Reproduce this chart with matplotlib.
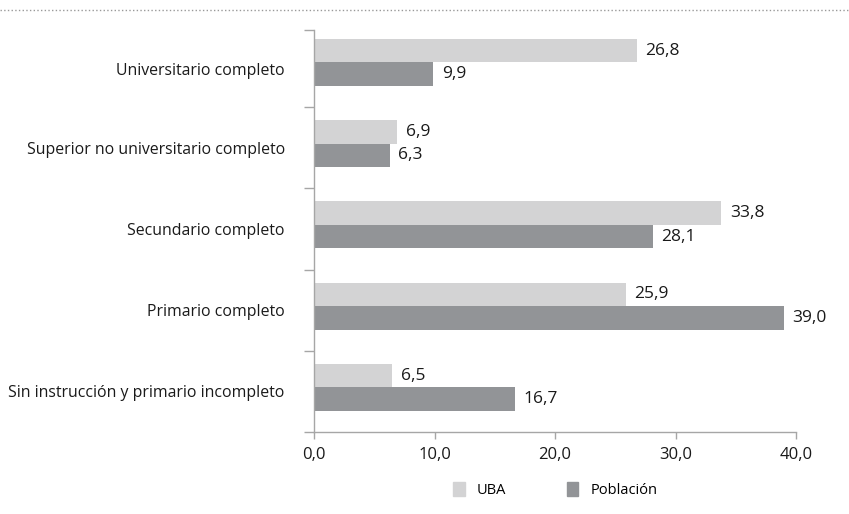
import numpy as np
import matplotlib.pyplot as plt
from matplotlib.lines import Line2D

categories = ['Universitario completo', 'Superior no universitario completo',
              'Secundario completo', 'Primario completo',
              'Sin instrucción y primario incompleto']
uba = [26.8, 6.9, 33.8, 25.9, 6.5]
poblacion = [9.9, 6.3, 28.1, 39.0, 16.7]
xticks = [0, 10, 20, 30, 40]

c_uba = '#d3d3d4'
c_pob = '#929497'
axis_col = '#a6a6a6'

plt.rcParams['font.family'] = ['Open Sans', 'DejaVu Sans']

fig = plt.figure(figsize=(8.49, 5.14), dpi=100)
ax = fig.add_axes([314 / 849, 1 - 432 / 514, (796 - 314) / 849, (432 - 30) / 514])

n = len(categories)
y = np.arange(n)[::-1]  # first category on top
h = 0.289
ax.barh(y + h / 2, uba, height=h, color=c_uba)
ax.barh(y - h / 2, poblacion, height=h, color=c_pob)

def fmt(v):
    return f'{v:.1f}'.replace('.', ',')

for yi, v in zip(y, uba):
    ax.text(v + 0.7, yi + h / 2, fmt(v), va='center', ha='left', fontsize=12.5, color='#1a1a1a')
for yi, v in zip(y, poblacion):
    ax.text(v + 0.7, yi - h / 2, fmt(v), va='center', ha='left', fontsize=12.5, color='#1a1a1a')

# group separators sit a bit below each bar pair
bounds = np.array([-0.55, 0.45, 1.45, 2.45, 3.45, 4.4])
ax.set_xlim(0, 40)
ax.set_ylim(bounds[0], bounds[-1])
ax.set_xticks(xticks)
ax.set_xticklabels([fmt(t) for t in xticks], fontsize=12, color='#1a1a1a')
label_pos = (bounds[:-1] + bounds[1:]) / 2
ax.set_yticks(label_pos)
ax.set_yticklabels(categories[::-1], fontsize=11.4, color='#1a1a1a')
ax.set_yticks(bounds, minor=True)
ax.tick_params(axis='y', which='major', length=0, pad=21)
ax.tick_params(axis='y', which='minor', length=7, color=axis_col, width=1)
ax.tick_params(axis='x', length=5, color=axis_col, width=1, pad=6)

for s in ['top', 'right']:
    ax.spines[s].set_visible(False)
for s in ['left', 'bottom']:
    ax.spines[s].set_color(axis_col)
    ax.spines[s].set_linewidth(1)

handles = [plt.Rectangle((0, 0), 1, 1, color=c_uba), plt.Rectangle((0, 0), 1, 1, color=c_pob)]
fig.legend(handles, ['UBA', 'Población'], loc='center', bbox_to_anchor=(555 / 849, 1 - 490 / 514),
           ncol=2, frameon=False, fontsize=10.5, handlelength=0.8, handleheight=1.1,
           columnspacing=4.2, handletextpad=0.8)

fig.add_artist(Line2D([0, 1], [1 - 10 / 514, 1 - 10 / 514], transform=fig.transFigure,
                      color='#999999', linestyle=':', linewidth=1))

fig.savefig('out.png', dpi=100)
